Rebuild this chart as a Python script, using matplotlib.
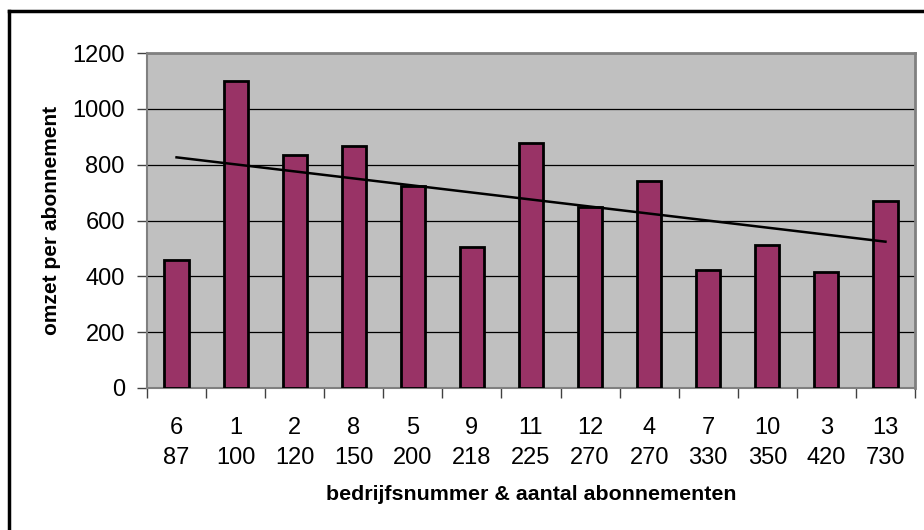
import numpy as np
import matplotlib
matplotlib.use("Agg")
import matplotlib.pyplot as plt
from matplotlib.lines import Line2D

plt.rcParams['font.family'] = ['Liberation Sans', 'DejaVu Sans']

bedrijf = ["6", "1", "2", "8", "5", "9", "11", "12", "4", "7", "10", "3", "13"]
abonnementen = ["87", "100", "120", "150", "200", "218", "225", "270", "270", "330", "350", "420", "730"]
omzet = [460, 1100, 833, 866, 724, 504, 877, 649, 740, 423, 514, 416, 671]

labels = [f"{b}\n{a}" for b, a in zip(bedrijf, abonnementen)]
x = np.arange(len(omzet))

fig = plt.figure(figsize=(9.24, 5.30), dpi=100)
ax = fig.add_axes([147/924, 1 - 388/530, (915-147)/924, (388-53)/530])
ax.set_facecolor('#C0C0C0')

ax.bar(x, omzet, width=0.41, color='#993366', edgecolor='black', linewidth=2.0, zorder=3)

coef = np.polyfit(x, omzet, 1)
ax.plot(x, np.polyval(coef, x), color='black', linewidth=1.8, zorder=4)

ax.set_xlim(-0.5, len(omzet) - 0.5)
ax.set_ylim(0, 1200)
ax.set_yticks(range(0, 1201, 200))
ax.yaxis.grid(True, color='black', linewidth=0.9, zorder=1)
ax.set_axisbelow(True)

ax.set_xticks(x)
ax.set_xticklabels(labels, fontsize=17, linespacing=1.45)
ax.set_xticks(np.arange(-0.5, len(omzet), 1), minor=True)
ax.tick_params(axis='x', which='major', length=0, pad=21)
ax.tick_params(axis='x', which='minor', length=7, width=1, color='#404040', direction='out')
ax.tick_params(axis='y', labelsize=17, length=7, width=1, color='#404040', direction='out', pad=9)

for s in ['top', 'right']:
    ax.spines[s].set_color('#808080')
    ax.spines[s].set_linewidth(2)
for s in ['left', 'bottom']:
    ax.spines[s].set_color('#808080')
    ax.spines[s].set_linewidth(1.5)

ax.set_ylabel('omzet per abonnement', fontsize=15, fontweight='bold', labelpad=8)
ax.set_xlabel('bedrijfsnummer & aantal abonnementen', fontsize=15.4, fontweight='bold', labelpad=12)

# outer frame (left and top edges visible)
fig.add_artist(Line2D([9/924, 9/924], [0, 1 - 11/530], transform=fig.transFigure, color='black', linewidth=2.5))
fig.add_artist(Line2D([9/924, 1], [1 - 11/530, 1 - 11/530], transform=fig.transFigure, color='black', linewidth=2.5))

fig.savefig('out.png', dpi=100)
